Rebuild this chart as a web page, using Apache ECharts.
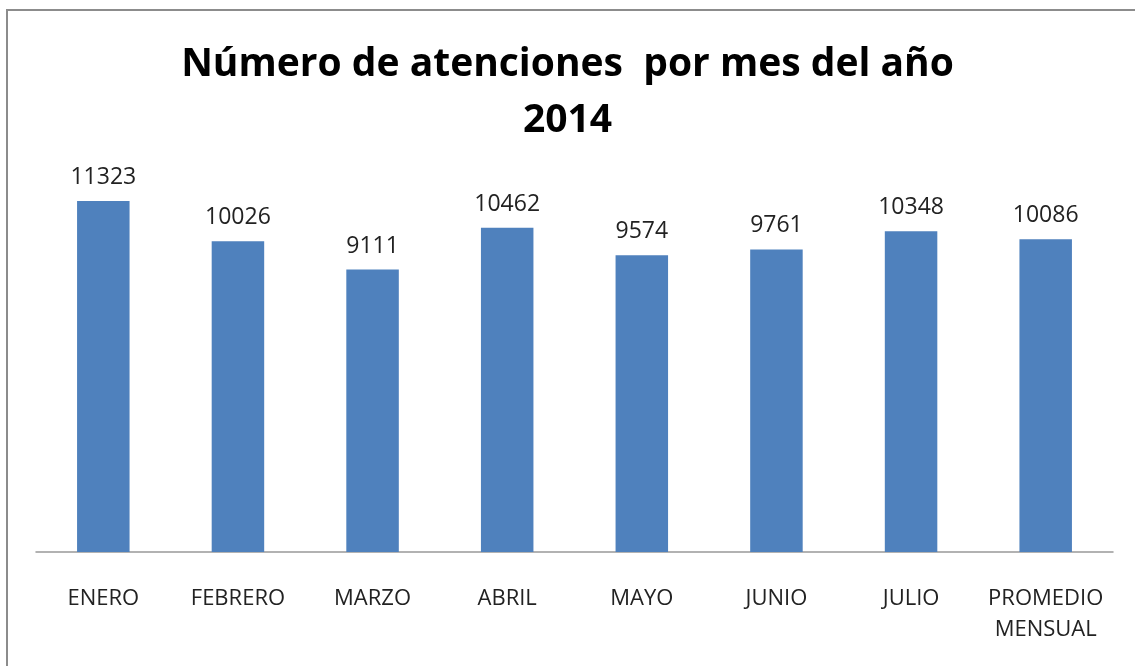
<!DOCTYPE html>
<html lang="es">
  <head>
    <meta charset="UTF-8" />
    <title>Número de atenciones por mes del año 2014</title>
    <script src="https://cdn.jsdelivr.net/npm/echarts@6/dist/echarts.min.js"></script>
    <style>
      html, body { margin: 0; padding: 0; background: #fff; }
      #chart { width: 1135px; height: 666px; }
    </style>
  </head>
  <body>
    <div id="chart"></div>
    <script>
      var months = ["ENERO", "FEBRERO", "MARZO", "ABRIL", "MAYO", "JUNIO", "JULIO", "PROMEDIO\nMENSUAL"];
      var atenciones = [11323, 10026, 9111, 10462, 9574, 9761, 10348, 10086];

      var chart = echarts.init(document.getElementById("chart"));
      var font = "'Open Sans', 'Liberation Sans', sans-serif";

      var option = {
        backgroundColor: "#fff",
        animation: false,
        title: {
          text: "Número de atenciones  por mes del año\n2014",
          left: "center",
          top: 32,
          textStyle: {
            fontFamily: font,
            fontWeight: "bold",
            fontSize: 39,
            lineHeight: 56,
            color: "#000"
          }
        },
        graphic: [
          {
            type: "rect",
            shape: { x: 7, y: 10, width: 1140, height: 700 },
            style: { fill: "none", stroke: "#8c8c8c", lineWidth: 2 },
            silent: true
          }
        ],
        grid: { left: 36, right: 22, top: 180, bottom: 114 },
        xAxis: {
          type: "category",
          data: months,
          axisLine: { lineStyle: { color: "#999", width: 1.5 } },
          axisTick: { show: false },
          axisLabel: {
            interval: 0,
            margin: 31,
            fontFamily: font,
            fontSize: 22,
            lineHeight: 31,
            color: "#222"
          }
        },
        yAxis: {
          type: "value",
          min: 0,
          max: 12000,
          show: false,
          splitLine: { show: false }
        },
        series: [
          {
            type: "bar",
            data: atenciones,
            barWidth: "39%",
            itemStyle: { color: "#4f81bd" },
            label: {
              show: true,
              position: "top",
              distance: 12,
              fontFamily: font,
              fontSize: 23,
              color: "#222"
            }
          }
        ]
      };

      chart.setOption(option);
    </script>
  </body>
</html>
